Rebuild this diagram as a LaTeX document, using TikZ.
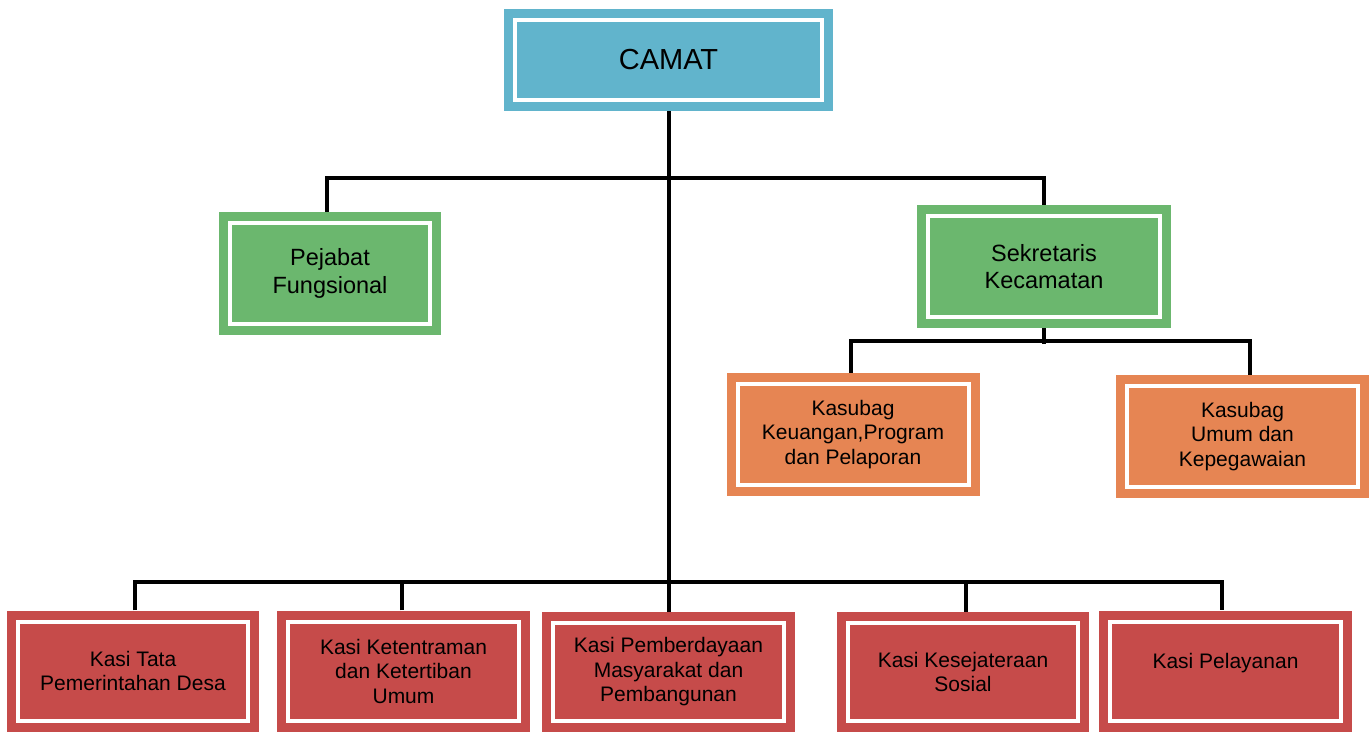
\documentclass[tikz,border=0pt]{standalone}
\usepackage{fontspec}
\setmainfont{Liberation Sans}
\definecolor{camatblue}{RGB}{97,180,204}
\definecolor{boxgreen}{RGB}{107,183,110}
\definecolor{boxorange}{RGB}{230,133,83}
\definecolor{boxred}{RGB}{198,75,74}
\begin{document}
\begin{tikzpicture}[x=1pt,y=-1pt,
  orgbox/.style={rectangle, inner sep=0pt, align=center, text=black,
    path picture={\draw[white,line width=4pt]
      ([shift={(11pt,-11pt)}]path picture bounding box.north west) rectangle
      ([shift={(-11pt,11pt)}]path picture bounding box.south east);}},
  camatbox/.style={orgbox, fill=camatblue, minimum width=329pt, minimum height=102pt,
    font=\fontsize{29}{34}\selectfont},
  greenbox/.style={orgbox, fill=boxgreen, minimum width=222pt, minimum height=123pt,
    font=\fontsize{23.5}{27.5}\selectfont},
  orangebox/.style={orgbox, fill=boxorange, minimum width=253pt, minimum height=123pt,
    font=\fontsize{21}{24.5}\selectfont},
  redbox/.style={orgbox, fill=boxred, minimum width=253pt, minimum height=121pt,
    font=\fontsize{21}{24.5}\selectfont},
  link/.style={line width=4pt, draw=black}
]
\useasboundingbox (0,0) rectangle (1372,731);

% boxes
\node[camatbox] (camat) at (668.5,60) {CAMAT};
\node[greenbox] (pej) at (330,273.5) {Pejabat\\Fungsional};
\node[greenbox, minimum width=254pt] (sek) at (1044,266.5) {Sekretaris\\Kecamatan};
\node[orangebox] (ka) at (853,434.5) {Kasubag\\Keuangan,Program\\dan Pelaporan};
\node[orangebox] (kb) at (1242.5,436.5) {Kasubag\\Umum dan\\Kepegawaian};
\node[redbox, minimum width=252pt] (k1) at (133,671) {Kasi Tata\\Pemerintahan Desa};
\node[redbox] (k2) at (403.5,671) {Kasi Ketentraman\\dan Ketertiban\\Umum};
\node[redbox, minimum height=120pt] (k3) at (668.5,672) {Kasi Pemberdayaan\\Masyarakat dan\\Pembangunan};
\node[redbox, minimum width=252pt, minimum height=120pt] (k4) at (963,672) {Kasi Kesejateraan\\Sosial};
\node[redbox] (k5) at (1225.5,671) {Kasi Pelayanan\\[-4pt]\mbox{}};

% bus levels
\coordinate (ytop) at (0,178);
\coordinate (ymid) at (0,341);
\coordinate (ybot) at (0,582);

% connectors
\draw[link] (camat.south) -- (camat.south |- k3.north);
\draw[link] ([xshift=-3pt]pej.north) |- (sek.north |- ytop) -- (sek.north);
\draw[link] (sek.south) -- ([yshift=-3pt]sek.south |- ymid);
\draw[link] ([xshift=-2pt]ka.north) |- ([xshift=7.5pt]kb.north |- ymid) -- ([xshift=7.5pt]kb.north);
\draw[link] ([xshift=2pt]k1.north) |- ([xshift=-3.5pt]k5.north |- ybot) -- ([xshift=-3.5pt]k5.north);
\draw[link] ([xshift=-1.5pt]k2.north) -- ([xshift=-1.5pt]k2.north |- ybot);
\draw[link] ([xshift=3pt]k4.north) -- ([xshift=3pt]k4.north |- ybot);
\end{tikzpicture}
\end{document}
